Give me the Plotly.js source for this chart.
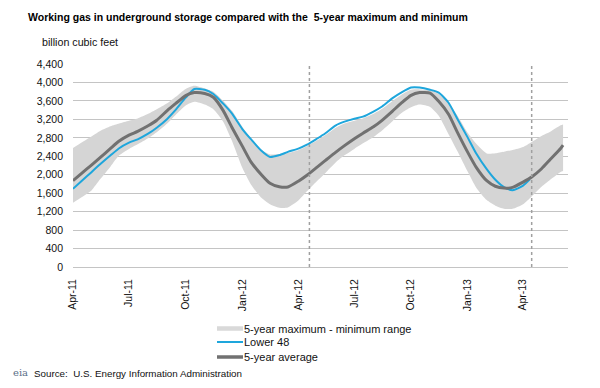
<!DOCTYPE html>
<html>
<head>
<meta charset="utf-8">
<script src="https://cdn.plot.ly/plotly-3.0.1.min.js"></script>
<style>
  html, body { margin: 0; padding: 0; background: #fff; }
  #chart { width: 600px; height: 388px; }
</style>
</head>
<body>
<div id="chart"></div>
<script>
// ---- Data (billion cubic feet) ----
const statDates = [
  '2011-04-01','2011-04-15','2011-05-01','2011-05-15','2011-06-01','2011-06-15','2011-07-01','2011-07-15',
  '2011-08-01','2011-08-15','2011-09-01','2011-09-15','2011-10-01','2011-10-15','2011-11-01','2011-11-15',
  '2011-12-01','2011-12-15','2012-01-01','2012-01-15','2012-02-01','2012-02-15','2012-03-01','2012-03-15',
  '2012-04-01','2012-04-15','2012-05-01','2012-05-15','2012-06-01','2012-06-15','2012-07-01','2012-07-15',
  '2012-08-01','2012-08-15','2012-09-01','2012-09-15','2012-10-01','2012-10-15','2012-11-01','2012-11-15',
  '2012-12-01','2012-12-15','2013-01-01','2013-01-15','2013-02-01','2013-02-15','2013-03-01','2013-03-15',
  '2013-04-01','2013-04-15','2013-05-01','2013-05-15','2013-06-01','2013-06-05'
];
const fiveYearAvg = [
  1870,2030,2210,2370,2570,2730,2858,2940,3060,3180,3390,3545,3715,3780,3760,3680,
  3390,3030,2620,2280,2000,1815,1740,1735,1860,1990,2160,2310,2490,2630,2780,2900,
  3040,3180,3380,3550,3720,3780,3770,3590,3310,2930,2490,2160,1870,1750,1710,1725,
  1840,1950,2130,2330,2570,2640
];
const fiveYearMax = [
  2580,2700,2830,2950,3050,3110,3170,3220,3320,3420,3550,3690,3860,3930,3870,3800,
  3600,3390,3040,2780,2540,2440,2450,2470,2530,2620,2740,2860,3020,3110,3170,3220,
  3320,3430,3600,3730,3840,3850,3830,3750,3550,3290,2910,2670,2460,2465,2500,2535,
  2600,2710,2840,2930,3070,3090
];
const fiveYearMin = [
  1390,1510,1660,1900,2180,2420,2560,2660,2790,2920,3110,3300,3500,3580,3520,3420,
  3150,2740,2150,1790,1500,1360,1285,1290,1440,1640,1860,2040,2270,2420,2560,2680,
  2820,2960,3160,3330,3460,3520,3470,3280,2880,2520,2070,1720,1450,1330,1265,1260,
  1360,1530,1740,1890,2060,2080
];
const lower48Dates = [
  '2011-04-01','2011-04-15','2011-05-01','2011-05-15','2011-06-01','2011-06-15','2011-07-01','2011-07-15',
  '2011-08-01','2011-08-15','2011-09-01','2011-09-15','2011-10-01','2011-10-15','2011-11-01','2011-11-15',
  '2011-12-01','2011-12-15','2012-01-01','2012-01-15','2012-02-01','2012-02-15','2012-03-01','2012-03-15',
  '2012-04-01','2012-04-15','2012-05-01','2012-05-15','2012-06-01','2012-06-15','2012-07-01','2012-07-15',
  '2012-08-01','2012-08-15','2012-09-01','2012-09-15','2012-10-01','2012-10-15','2012-11-01','2012-11-15',
  '2012-12-01','2012-12-15','2013-01-01','2013-01-15','2013-02-01','2013-02-15','2013-03-01','2013-03-15',
  '2013-04-01','2013-04-12'
];
const lower48 = [
  1695,1863,2056,2225,2420,2575,2695,2768,2890,3020,3210,3410,3670,3857,3840,3750,
  3540,3330,2990,2770,2520,2385,2425,2495,2565,2650,2780,2900,3070,3150,3215,3260,
  3370,3480,3660,3780,3890,3890,3842,3780,3560,3220,2810,2460,2120,1890,1730,1665,
  1765,1900
];
const tickDates = ['2011-04-01','2011-07-01','2011-10-01','2012-01-01','2012-04-01',
                   '2012-07-01','2012-10-01','2013-01-01','2013-04-01'];
const tickLabels = ['Apr-11','Jul-11','Oct-11','Jan-12','Apr-12','Jul-12','Oct-12','Jan-13','Apr-13'];
const yTicks = [0,400,800,1200,1600,2000,2400,2800,3200,3600,4000,4400];
const reportWeeks = ['2012-04-19','2013-04-15'];
const legendLabels = ['5-year maximum - minimum range','Lower 48','5-year average'];

const titleText = 'Working gas in underground storage compared with the  5-year maximum and minimum';
const unitText = 'billion cubic feet';
const sourceText = 'Source:  U.S. Energy Information Administration';

// ---- Styles ----
const FONT = 'Liberation Sans, Arial, Helvetica, sans-serif';
const bandColor = '#d5d5d5';
const blueColor = '#1ea6dc';
const avgColor = '#717171';

const W = 600, H = 388;
const M = {l: 73, r: 32, t: 64, b: 121};
const PW = W - M.l - M.r, PH = H - M.t - M.b;
const px = x => (x - M.l) / PW;        // pixel -> paper x
const py = y => (H - M.b - y) / PH;    // pixel -> paper y

const traces = [
  {x: statDates, y: fiveYearMin, type: 'scatter', mode: 'lines',
   line: {width: 0, color: bandColor, shape: 'spline', smoothing: 0.6},
   hoverinfo: 'skip', showlegend: false},
  {x: statDates, y: fiveYearMax, type: 'scatter', mode: 'lines', fill: 'tonexty',
   fillcolor: bandColor, line: {width: 0, color: bandColor, shape: 'spline', smoothing: 0.6},
   name: legendLabels[0], showlegend: false},
  {x: lower48Dates, y: lower48, type: 'scatter', mode: 'lines',
   line: {width: 2, color: blueColor, shape: 'spline', smoothing: 0.6},
   name: legendLabels[1], showlegend: false},
  {x: statDates, y: fiveYearAvg, type: 'scatter', mode: 'lines',
   line: {width: 3, color: avgColor, shape: 'spline', smoothing: 0.6},
   name: legendLabels[2], showlegend: false}
];

const shapes = reportWeeks.map(d => ({
  type: 'line', xref: 'x', yref: 'paper', x0: d, x1: d, y0: 0, y1: 1,
  line: {color: '#a0a0a0', width: 1.5, dash: 'dot'}, layer: 'above'
}));

// legend (drawn manually for exact spacing)
const legendRows = [328.5, 342, 357];
const legendSym = [
  {color: '#d9d9d9', width: 4.5},
  {color: blueColor, width: 2},
  {color: avgColor, width: 3.5}
];
legendRows.forEach((yy, i) => {
  shapes.push({type: 'line', xref: 'paper', yref: 'paper',
    x0: px(217), x1: px(243), y0: py(yy), y1: py(yy),
    line: {color: legendSym[i].color, width: legendSym[i].width}});
});

const annotations = [
  {text: unitText, xref: 'paper', yref: 'paper', x: px(40), y: py(42),
   xanchor: 'left', yanchor: 'middle', showarrow: false,
   font: {family: FONT, size: 10.7, color: '#111'}},
  {text: sourceText, xref: 'paper', yref: 'paper', x: px(32), y: py(373),
   xanchor: 'left', yanchor: 'middle', showarrow: false,
   font: {family: FONT, size: 9.8, color: '#111'}},
  {text: 'eia', xref: 'paper', yref: 'paper', x: px(20), y: py(372),
   xanchor: 'center', yanchor: 'middle', showarrow: false,
   font: {family: 'DejaVu Serif, serif', size: 10, color: '#5b7088'}}
];
legendRows.forEach((yy, i) => {
  annotations.push({text: legendLabels[i], xref: 'paper', yref: 'paper',
    x: px(242), y: py(yy), xanchor: 'left', yanchor: 'middle', showarrow: false,
    font: {family: FONT, size: 11, color: '#111'}});
});

const layout = {
  width: W, height: H,
  margin: M,
  paper_bgcolor: '#fff', plot_bgcolor: '#fff',
  font: {family: FONT, size: 10, color: '#111'},
  showlegend: false,
  title: {text: '<b>' + titleText + '</b>', xref: 'container', yref: 'container',
          x: 28 / W, xanchor: 'left', y: 1 - 17 / H, yanchor: 'middle',
          font: {family: FONT, size: 10.5, color: '#000'}},
  xaxis: {
    type: 'date', range: ['2011-04-01', '2013-06-13'],
    tickvals: tickDates, ticktext: tickLabels, tickangle: -90,
    showgrid: false, zeroline: false, showline: false, ticks: '',
    ticklabelstandoff: 9,
    tickfont: {family: FONT, size: 10.5, color: '#111'}, fixedrange: true
  },
  yaxis: {
    range: [0, 4400], tickvals: yTicks, tickformat: ',',
    showgrid: true, gridcolor: '#c4c4c4', gridwidth: 1,
    zeroline: true, zerolinecolor: '#c4c4c4', zerolinewidth: 1,
    showline: false, ticks: '', ticklabelstandoff: 9,
    tickfont: {family: FONT, size: 10.5, color: '#111'}, fixedrange: true
  },
  shapes: shapes,
  annotations: annotations
};

Plotly.newPlot('chart', traces, layout, {displayModeBar: false, staticPlot: true});
</script>
</body>
</html>
